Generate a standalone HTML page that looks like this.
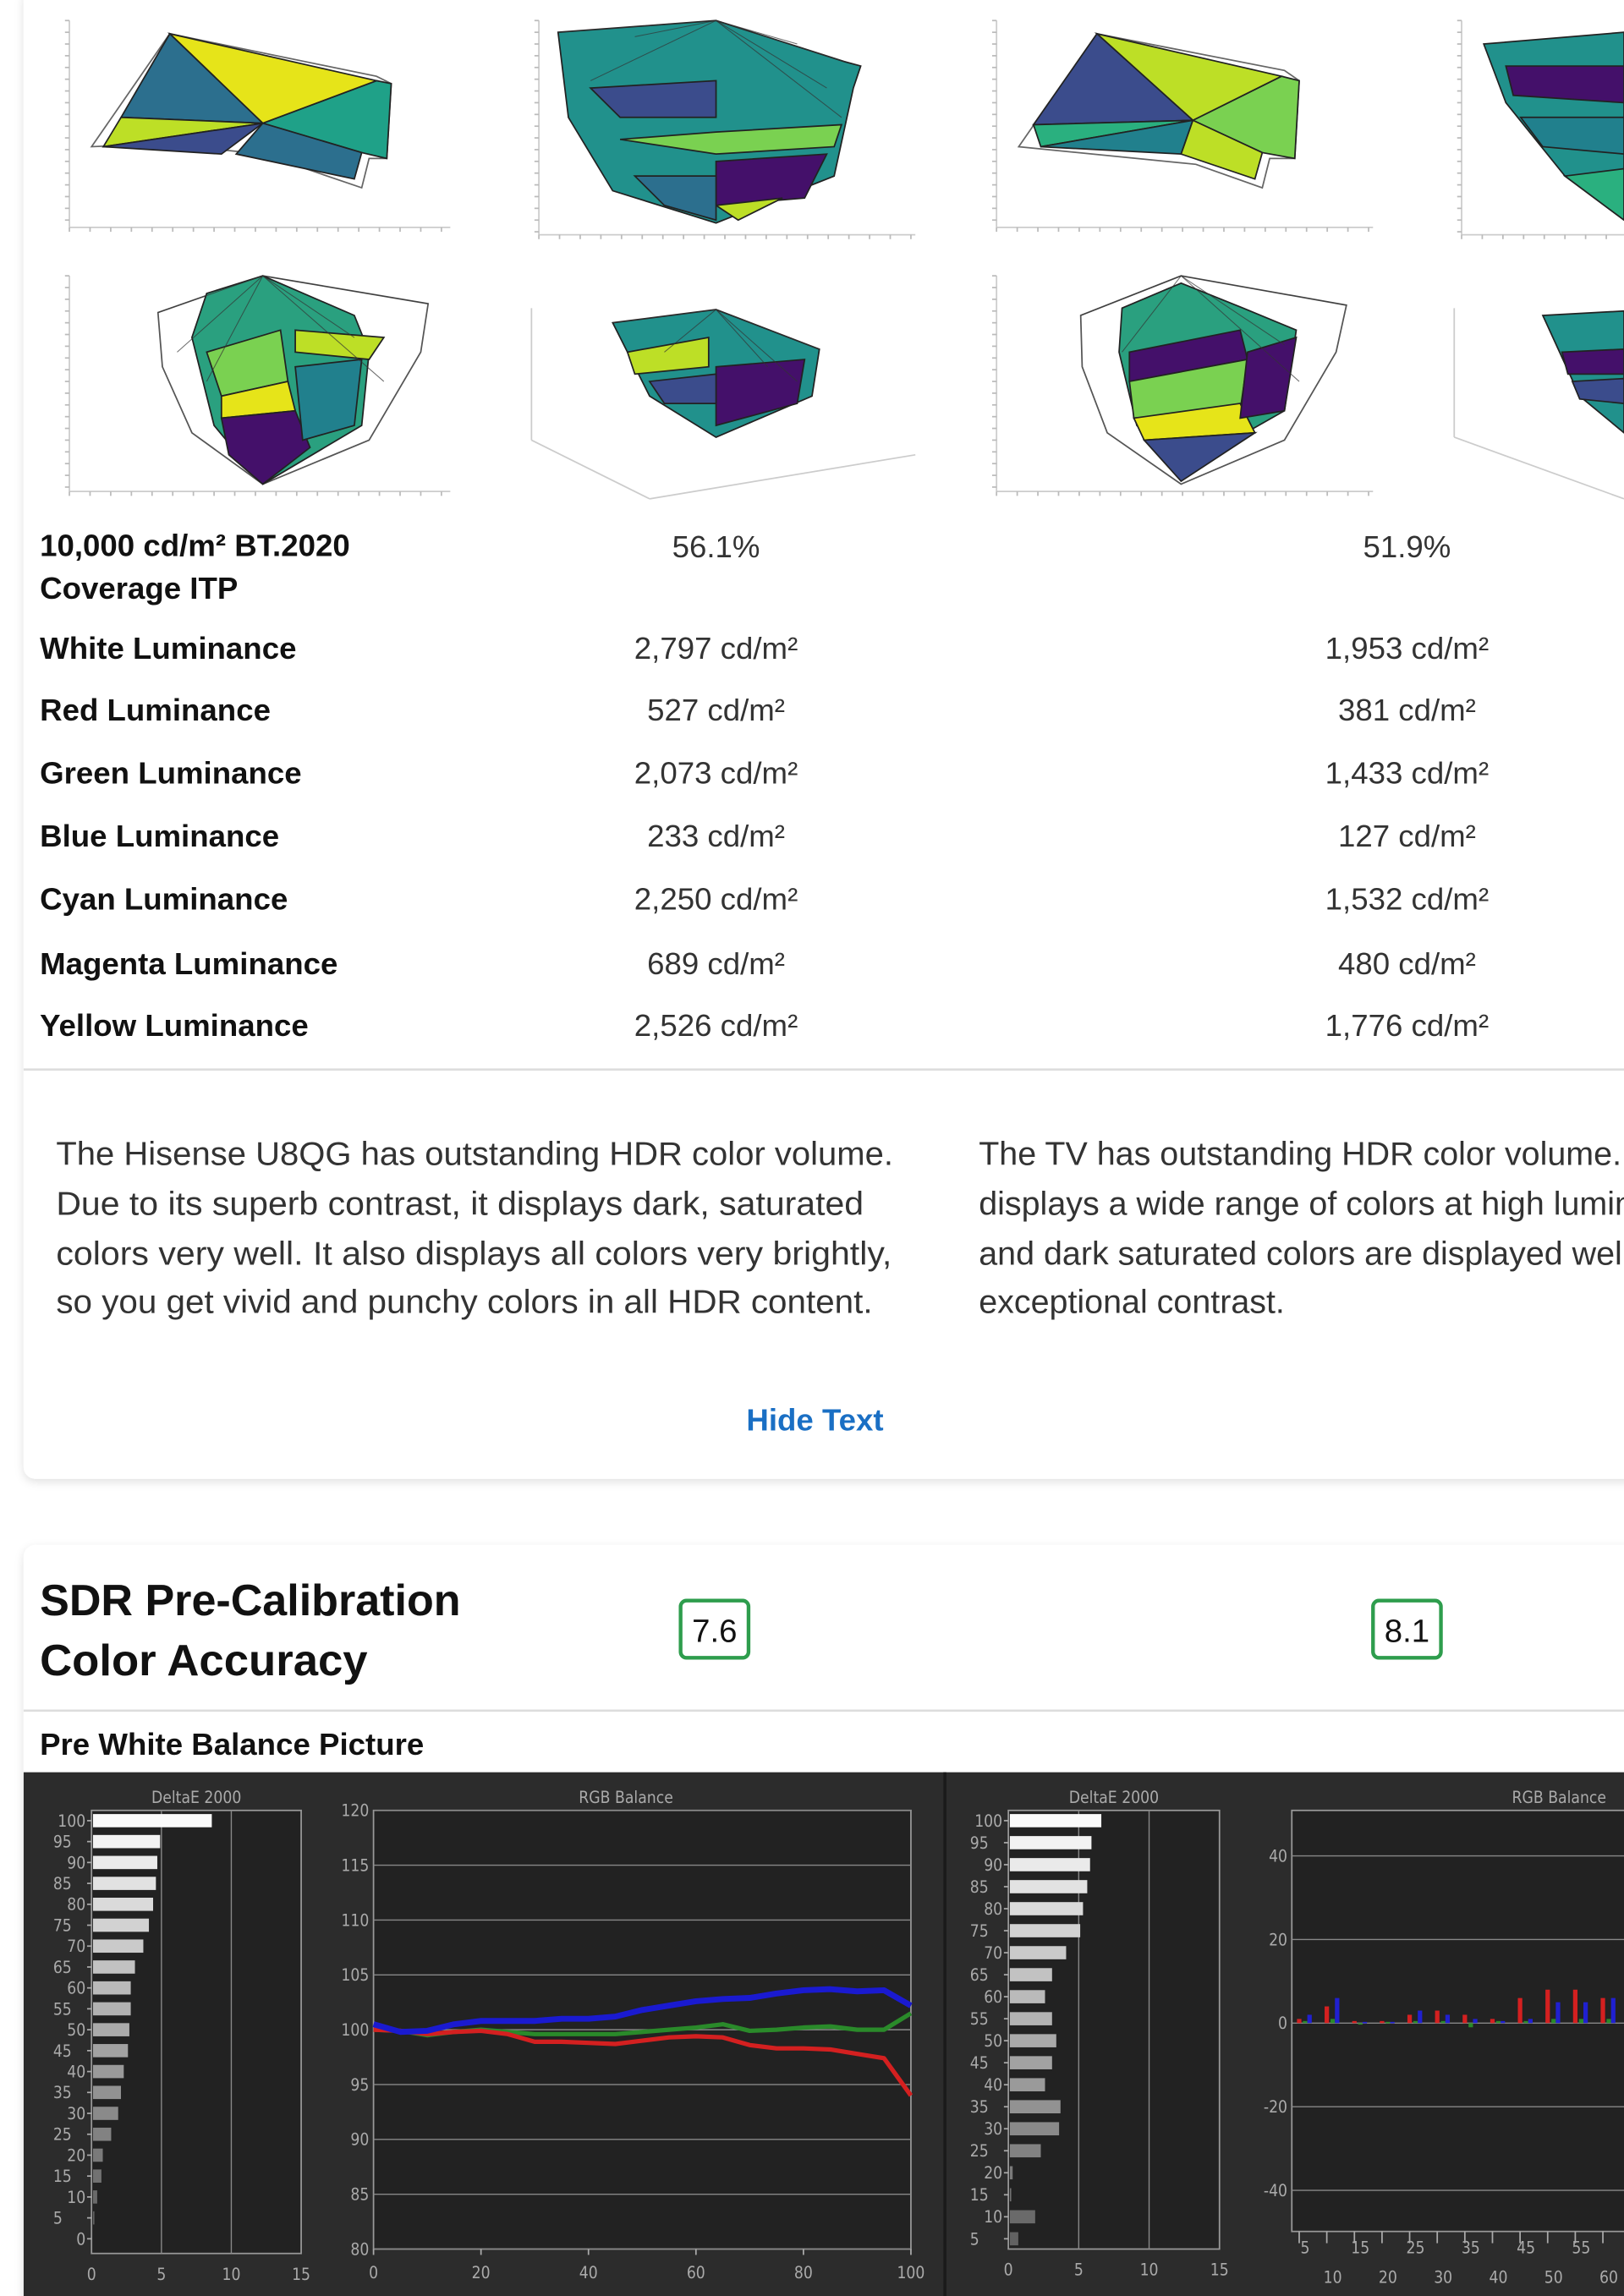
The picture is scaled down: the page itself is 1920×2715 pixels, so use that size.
<!DOCTYPE html>
<html><head><meta charset="utf-8">
<style>
html,body{margin:0;padding:0;background:#fff;}
svg{display:block;}
text{font-family:"Liberation Sans",Arial,sans-serif;}
.lbl{font-weight:bold;font-size:21px;fill:#111;}
.val{font-size:21px;fill:#333;text-anchor:middle;}
.para{font-size:22.6px;fill:#333;}
.tk{font-family:"DejaVu Sans Condensed","Liberation Sans",sans-serif;font-size:11px;fill:#aaa;}
</style></head>
<body>
<svg id="page" width="1920" height="2715" viewBox="0 0 1100 1565" preserveAspectRatio="none" xmlns="http://www.w3.org/2000/svg">
<defs>
<filter id="sh" x="-5%" y="-5%" width="110%" height="110%"><feDropShadow dx="0" dy="2" stdDeviation="3" flood-opacity="0.12"/></filter>
</defs>
<rect x="16" y="-10" width="1100" height="1018" rx="8" fill="#fff" filter="url(#sh)"/>
<g id="plots"></g>

<g>
<text class="lbl" x="27" y="379">10,000 cd/m² BT.2020</text>
<text class="lbl" x="27" y="408">Coverage ITP</text>
<text class="val" x="485" y="380">56.1%</text>
<text class="val" x="953" y="380">51.9%</text>
<text class="lbl" x="27" y="449">White Luminance</text>
<text class="val" x="485" y="449">2,797 cd/m²</text>
<text class="val" x="953" y="449">1,953 cd/m²</text>
<text class="lbl" x="27" y="491">Red Luminance</text>
<text class="val" x="485" y="491">527 cd/m²</text>
<text class="val" x="953" y="491">381 cd/m²</text>
<text class="lbl" x="27" y="534">Green Luminance</text>
<text class="val" x="485" y="534">2,073 cd/m²</text>
<text class="val" x="953" y="534">1,433 cd/m²</text>
<text class="lbl" x="27" y="577">Blue Luminance</text>
<text class="val" x="485" y="577">233 cd/m²</text>
<text class="val" x="953" y="577">127 cd/m²</text>
<text class="lbl" x="27" y="620">Cyan Luminance</text>
<text class="val" x="485" y="620">2,250 cd/m²</text>
<text class="val" x="953" y="620">1,532 cd/m²</text>
<text class="lbl" x="27" y="664">Magenta Luminance</text>
<text class="val" x="485" y="664">689 cd/m²</text>
<text class="val" x="953" y="664">480 cd/m²</text>
<text class="lbl" x="27" y="706">Yellow Luminance</text>
<text class="val" x="485" y="706">2,526 cd/m²</text>
<text class="val" x="953" y="706">1,776 cd/m²</text>
</g>
<line x1="16" y1="729" x2="1100" y2="729" stroke="#ddd" stroke-width="1.5"/>

<g>
<text class="para" x="38" y="794" textLength="567" lengthAdjust="spacingAndGlyphs">The Hisense U8QG has outstanding HDR color volume.</text>
<text class="para" x="38" y="828" textLength="547" lengthAdjust="spacingAndGlyphs">Due to its superb contrast, it displays dark, saturated</text>
<text class="para" x="38" y="862" textLength="566" lengthAdjust="spacingAndGlyphs">colors very well. It also displays all colors very brightly,</text>
<text class="para" x="38" y="895" textLength="553" lengthAdjust="spacingAndGlyphs">so you get vivid and punchy colors in all HDR content.</text>
</g>
<g>
<text class="para" x="663" y="794">The TV has outstanding HDR color volume. It</text>
<text class="para" x="663" y="828">displays a wide range of colors at high luminance,</text>
<text class="para" x="663" y="862">and dark saturated colors are displayed well due to its</text>
<text class="para" x="663" y="895">exceptional contrast.</text>
</g>
<text x="552" y="975" text-anchor="middle" font-size="21" font-weight="bold" fill="#1a6fc4">Hide Text</text>

<rect x="16" y="1053" width="1100" height="540" rx="8" fill="#fff" filter="url(#sh)"/>
<text x="27" y="1101" font-size="30" font-weight="bold" fill="#111" textLength="285" lengthAdjust="spacingAndGlyphs">SDR Pre-Calibration</text>
<text x="27" y="1142" font-size="30" font-weight="bold" fill="#111" textLength="222" lengthAdjust="spacingAndGlyphs">Color Accuracy</text>
<rect x="461" y="1091" width="46" height="39" rx="4" fill="#fff" stroke="#2e9d4d" stroke-width="2.5"/>
<text x="484" y="1119" text-anchor="middle" font-size="22" fill="#111">7.6</text>
<rect x="930" y="1091" width="46" height="39" rx="4" fill="#fff" stroke="#2e9d4d" stroke-width="2.5"/>
<text x="953" y="1119" text-anchor="middle" font-size="22" fill="#111">8.1</text>
<line x1="16" y1="1166" x2="1100" y2="1166" stroke="#ddd" stroke-width="1.5"/>
<text x="27" y="1196" font-size="21" font-weight="bold" fill="#111">Pre White Balance Picture</text>

<rect x="16" y="1208" width="1100" height="360" fill="#2c2c2c"/>
<line x1="640" y1="1208" x2="640" y2="1565" stroke="#1a1a1a" stroke-width="2"/>
<g id="charts"></g>
</svg>

<script>
const deLevelsL = [100,95,90,85,80,75,70,65,60,55,50,45,40,35,30,25,20,15,10,5,0];
const deValuesL = [8.5,4.8,4.6,4.5,4.3,4.0,3.6,3.0,2.7,2.7,2.6,2.5,2.2,2.0,1.8,1.3,0.7,0.6,0.3,0.1,0];
const deTicksX = [0,5,10,15];
const rgbX = [0,5,10,15,20,25,30,35,40,45,50,55,60,65,70,75,80,85,90,95,100];
const rgbBlue = [100.5,99.8,99.9,100.5,100.8,100.8,100.8,101,101,101.2,101.8,102.2,102.6,102.8,102.9,103.3,103.6,103.7,103.5,103.6,102.2];
const rgbGreen = [100,99.9,99.5,99.8,100,99.8,99.6,99.6,99.6,99.6,99.8,100,100.2,100.5,99.9,100,100.2,100.3,100,100,101.5];
const rgbRed = [100,99.9,99.6,99.8,99.9,99.6,98.9,98.9,98.8,98.7,99,99.3,99.4,99.3,98.6,98.3,98.3,98.2,97.8,97.4,94];
const rgbTicksY = [80,85,90,95,100,105,110,115,120];
const rgbTicksX = [0,20,40,60,80,100];
const deLevelsR = [100,95,90,85,80,75,70,65,60,55,50,45,40,35,30,25,20,15,10,5];
const deValuesR = [6.5,5.8,5.7,5.5,5.2,5.0,4.0,3.0,2.5,3.0,3.3,3.0,2.5,3.6,3.5,2.2,0.2,0.1,1.8,0.6];
const rbLevels = [5,10,15,20,25,30,35,40,45,50,55,60];
const rbRed = [1,4,0.5,0.5,2,3,2,1,6,8,8,6];
const rbGreen = [0.5,1,0,0.3,0.5,0.5,-1,0.5,0.5,1,1,1];
const rbBlue = [2,6,0.3,0.3,3,2,1,0.5,1,5,5,6];
const rbTicksY = [40,20,0,-20,-40];

const NS = "http://www.w3.org/2000/svg";
function mk(parent, tag, attrs, txt){
  const e = document.createElementNS(NS, tag);
  for (const k in attrs) e.setAttribute(k, attrs[k]);
  if (txt !== undefined) e.textContent = txt;
  parent.appendChild(e);
  return e;
}
const charts = document.getElementById('charts');

function deltaChart(name, x0, x1, yTop, yBot, lvTop, lvBot, top, bottom, levels, values){
  const g = mk(charts,'g',{});
  
  
  const sx = v => x0 + v*(x1-x0)/15;
  const sy = l => yBot - (l-lvBot)*(yBot-yTop)/(lvTop-lvBot);
  mk(g,'text',{x:(x0+x1)/2, y:top-5, 'text-anchor':'middle', class:'tk', fill:'#bbb'}, 'DeltaE 2000');
  mk(g,'rect',{x:x0,y:top,width:x1-x0,height:bottom-top,fill:'#222',stroke:'#999','stroke-width':1});
  deTicksX.forEach(t=>{
    if(t>0 && t<15) mk(g,'line',{x1:sx(t),x2:sx(t),y1:top,y2:bottom,stroke:'#888','stroke-width':0.8});
    mk(g,'text',{x:sx(t),y:bottom+18,'text-anchor':'middle',class:'tk'}, String(t));
  });
  levels.forEach((l,i)=>{
    const y = sy(l);
    const odd = (l % 10)!==0;
    mk(g,'text',{x: odd ? x0-26 : x0-4, y:y+4,'text-anchor': odd?'start':'end',class:'tk'}, String(l));
    mk(g,'line',{x1:x0-3,x2:x0,y1:y,y2:y,stroke:'#aaa'});
    const c = Math.round(90 + l*1.6);
    const bar = mk(g,'rect',{x:x0+1,y:y-4.5,width:Math.max(0,sx(values[i])-x0),height:9,fill:`rgb(${c},${c},${c})`});
    
    
  });
}
deltaChart('deltae-chart-left', 62, 204, 1241, 1526, 100, 0, 1234, 1536, deLevelsL, deValuesL);
deltaChart('deltae-chart-right', 683, 826, 1241, 1526, 100, 5, 1234, 1533, deLevelsR, deValuesR);

(function(){
  const g = mk(charts,'g',{});
  
  
  const x0=253,x1=617,yT=1234,yB=1533;
  const sx = v => x0 + v*(x1-x0)/100;
  const sy = v => yB - (v-80)*(yB-yT)/40;
  mk(g,'text',{x:424,y:1229,'text-anchor':'middle',class:'tk',fill:'#bbb'},'RGB Balance');
  mk(g,'rect',{x:x0,y:yT,width:x1-x0,height:yB-yT,fill:'#222',stroke:'#999','stroke-width':1});
  rgbTicksY.forEach(t=>{
    mk(g,'line',{x1:x0,x2:x1,y1:sy(t),y2:sy(t),stroke:'#888','stroke-width':0.8});
    mk(g,'text',{x:x0-3,y:sy(t)+4,'text-anchor':'end',class:'tk'},String(t));
  });
  rgbTicksX.forEach(t=>{
    mk(g,'line',{x1:sx(t),x2:sx(t),y1:yB,y2:yB+4,stroke:'#aaa'});
    mk(g,'text',{x:sx(t),y:1553,'text-anchor':'middle',class:'tk'},String(t));
  });
  const series = [['green',rgbGreen,'#2a8a2a'],['red',rgbRed,'#d42020'],['blue',rgbBlue,'#1a1ad0']];
  series.forEach(([n,arr,col])=>{
    const p = mk(g,'polyline',{points:rgbX.map((x,i)=>sx(x)+','+sy(arr[i])).join(' '),fill:'none',stroke:col,'stroke-width':n==='blue'?4:3,'stroke-linejoin':'round'});
    
    
  });
})();

(function(){
  const g = mk(charts,'g',{});
  
  
  const x0=875,yT=1234,yB=1521;
  const sx = v => 884 + (v-5)*3.74;
  const sy = v => 1379 - v*2.85;
  mk(g,'text',{x:1088,y:1229,'text-anchor':'end',class:'tk',fill:'#bbb'},'RGB Balance');
  mk(g,'rect',{x:x0,y:yT,width:240,height:yB-yT,fill:'#222',stroke:'#999','stroke-width':1});
  rbTicksY.forEach(t=>{
    mk(g,'line',{x1:x0,x2:1100,y1:sy(t),y2:sy(t),stroke:'#888','stroke-width':0.8});
    mk(g,'text',{x:x0-3,y:sy(t)+4,'text-anchor':'end',class:'tk'},String(t));
  });
  rbLevels.forEach((l,i)=>{
    const cx = sx(l);
    const top = (l%10)!==0;
    mk(g,'line',{x1:cx-4,x2:cx-4,y1:yB,y2:yB+8,stroke:'#aaa'});
    mk(g,'text',{x:cx,y: top?1536:1556,'text-anchor':'middle',class:'tk'},String(l));
    [['red',rbRed,'#d42020',-4],['green',rbGreen,'#2a8a2a',0],['blue',rbBlue,'#2020d0',3]].forEach(([n,arr,col,off])=>{
      const v = arr[i];
      const r = mk(g,'rect',{x:cx+off-1.5,y:Math.min(sy(v),sy(0)),width:3,height:Math.max(1,Math.abs(sy(v)-sy(0))),fill:col});
      
      
    });
  });
})();

const plots = document.getElementById('plots');
const V = {p:'#44106a',b:'#3b4c8c',t:'#21808d',g:'#2ab07f',lg:'#7ad151',y:'#e6e419',yg:'#bddf26',tb:'#2c6f8e'};
function poly(g,pts,fill,stroke){ mk(g,'polygon',{points:pts,fill:fill,stroke:stroke||'#222','stroke-width':1}); }
function axes(g,x,y1,y2,x2){
  mk(g,'line',{x1:x,y1:y1,x2:x,y2:y2,stroke:'#ccc','stroke-width':1});
  mk(g,'line',{x1:x,y1:y2,x2:x2,y2:y2,stroke:'#ccc','stroke-width':1});
  for(let yy=y1; yy<y2; yy+=8) mk(g,'line',{x1:x-3,x2:x,y1:yy,y2:yy,stroke:'#bbb'});
  for(let xx=x; xx<x2; xx+=14) mk(g,'line',{x1:xx,x2:xx,y1:y2,y2:y2+3,stroke:'#bbb'});
}
function wire(g,apex,pts){ pts.forEach(p=>mk(g,'line',{x1:apex[0],y1:apex[1],x2:p[0],y2:p[1],stroke:'#333','stroke-width':0.6,opacity:0.7})); }
function grp(name){ const g=mk(plots,'g',{});   return g; }

let g = grp('volume-plot-1');
axes(g,47,14,155,305);
poly(g,'62,100 115,23 255,52 265,57 262,108 250,108 245,128 178,105 110,98','none','#666');
poly(g,'178,84 255,55 265,57 262,108 245,104','#1fa188');
poly(g,'115,23 255,55 178,84',V.y);
poly(g,'115,23 178,84 82,80',V.tb);
poly(g,'82,80 178,84 70,100',V.yg);
poly(g,'70,100 178,84 150,105',V.b);
poly(g,'178,84 245,104 240,122 160,105',V.tb);
g = grp('volume-plot-2');
axes(g,365,14,160,620);
poly(g,'378,22 485,14 572,42 583,45 578,60 565,120 485,152 415,130 385,80','#21918c');
poly(g,'400,60 485,55 485,80 420,80',V.b);
poly(g,'420,95 485,90 570,85 565,100 485,105',V.lg);
poly(g,'485,110 560,105 545,135 485,140',V.p);
poly(g,'485,140 530,135 500,150',V.yg);
poly(g,'430,120 485,120 485,150 450,140',V.tb);
wire(g,[485,14],[[378,22],[572,42],[430,25],[540,30],[560,60],[400,55],[570,80]]);
g = grp('volume-plot-3');
axes(g,47,188,335,305);
poly(g,'107,213 178,188 290,207 285,240 250,300 178,330 130,295 110,250','none','#555');
poly(g,'140,200 178,188 240,215 250,240 245,290 178,330 145,290 130,230','#2aa07f');
poly(g,'140,240 190,225 195,260 150,270',V.lg);
poly(g,'150,270 195,260 200,280 150,285',V.y);
poly(g,'150,285 200,280 210,305 178,330 155,310',V.p);
poly(g,'200,250 245,245 240,290 205,300',V.t);
poly(g,'200,225 260,230 250,245 200,240',V.yg);
wire(g,[178,188],[[107,213],[290,207],[140,260],[240,230],[260,260],[120,240]]);
g = grp('volume-plot-4');
mk(g,'line',{x1:360,y1:210,x2:360,y2:300,stroke:'#ccc'});
mk(g,'line',{x1:360,y1:300,x2:440,y2:340,stroke:'#ccc'});
mk(g,'line',{x1:440,y1:340,x2:620,y2:310,stroke:'#ccc'});
poly(g,'415,220 485,211 555,238 550,270 485,298 440,270','#21918c');
poly(g,'425,240 480,230 480,250 430,255',V.yg);
poly(g,'485,250 545,245 540,275 485,290',V.p);
poly(g,'440,260 485,255 485,275 450,275',V.b);
wire(g,[485,211],[[415,220],[555,238],[450,240],[520,250],[540,260]]);
g = grp('volume-plot-5');
axes(g,675,14,155,930);
poly(g,'690,100 743,23 870,48 880,55 877,108 860,108 855,128 810,112','none','#666');
poly(g,'808,82 868,52 880,55 877,108 855,104',V.lg);
poly(g,'743,23 868,52 808,82',V.yg);
poly(g,'743,23 808,82 700,85',V.b);
poly(g,'700,85 808,82 705,100',V.g);
poly(g,'705,100 808,82 800,105',V.t);
poly(g,'808,82 855,104 850,122 800,105',V.yg);
g = grp('volume-plot-6');
axes(g,990,14,160,1100);
poly(g,'1005,30 1100,22 1100,150 1060,120 1020,70','#21918c');
poly(g,'1020,45 1100,45 1100,70 1025,65',V.p);
poly(g,'1030,80 1100,80 1100,105 1045,100',V.t);
poly(g,'1060,120 1100,115 1100,150',V.g);
g = grp('volume-plot-7');
axes(g,675,188,335,930);
poly(g,'732,215 800,188 912,208 905,240 870,300 800,330 750,295 733,250','none','#555');
poly(g,'760,210 800,193 842,210 878,225 870,280 800,320 770,290 758,240','#2aa07f');
poly(g,'765,240 840,225 845,245 765,260',V.p);
poly(g,'765,260 845,245 840,280 768,285',V.lg);
poly(g,'768,285 840,275 850,295 775,300',V.y);
poly(g,'775,300 850,295 800,328',V.b);
poly(g,'845,240 878,230 870,280 840,285',V.p);
wire(g,[800,188],[[732,215],[912,208],[760,240],[870,235],[880,260]]);
g = grp('volume-plot-8');
mk(g,'line',{x1:985,y1:210,x2:985,y2:298,stroke:'#ccc'});
mk(g,'line',{x1:985,y1:298,x2:1100,y2:340,stroke:'#ccc'});
poly(g,'1045,215 1100,212 1100,295 1070,270','#21918c');
poly(g,'1058,240 1100,238 1100,255 1062,255',V.p);
poly(g,'1065,260 1100,258 1100,275 1070,272',V.b);
</script>
</body></html>
